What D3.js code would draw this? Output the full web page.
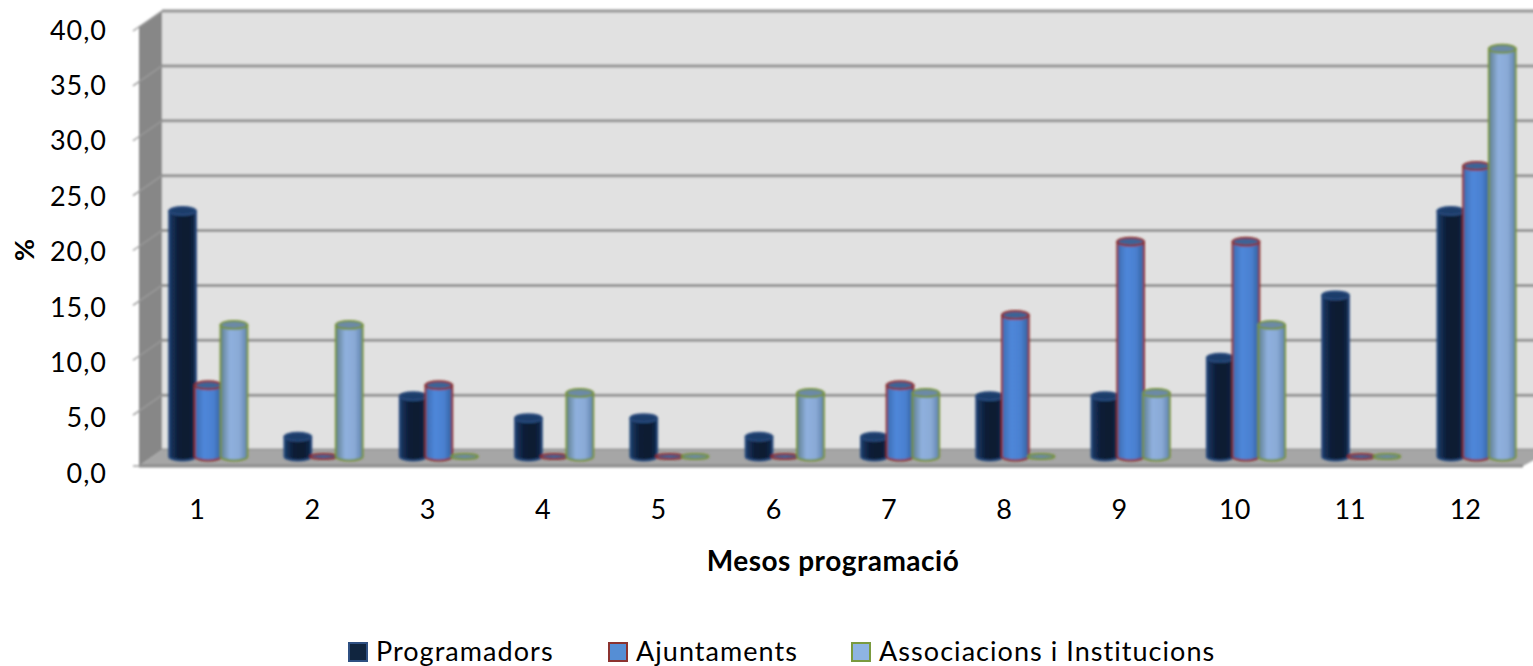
<!DOCTYPE html>
<html>
<head>
<meta charset="utf-8">
<script src="https://cdn.jsdelivr.net/npm/d3@7"></script>
<style>
  html, body { margin: 0; padding: 0; background: #fff; overflow: hidden; }
  text { font-family: Lato, "Open Sans", sans-serif; fill: #000; }
</style>
</head>
<body>
<div id="chart"></div>
<script>
const months = ['1', '2', '3', '4', '5', '6', '7', '8', '9', '10', '11', '12']
const seriesNames = ['Programadors', 'Ajuntaments', 'Associacions i Institucions']
const programadors = [22.4, 1.8, 5.5, 3.5, 3.5, 1.8, 1.8, 5.5, 5.5, 9.0, 14.7, 22.4]
const ajuntaments = [6.5, 0, 6.5, 0, 0, 0, 6.5, 12.9, 19.6, 19.6, 0, 26.5]
const associacions = [12.0, 12.0, 0, 5.8, 0, 5.8, 5.8, 0, 5.8, 12.0, 0, 37.2]
const yTicks = [0, 5, 10, 15, 20, 25, 30, 35, 40]

const width = 1533
const height = 666

// the fake 3d box
const wall = { left: 162, top: 11, bottom: 450 }
const depth = { x: 23, y: 16 }

const svg = d3
  .select('#chart')
  .append('svg')
  .attr('width', width)
  .attr('height', height)

const defs = svg.append('defs')

defs
  .append('filter')
  .attr('id', 'soft')
  .attr('x', '-5%')
  .attr('y', '-5%')
  .attr('width', '110%')
  .attr('height', '110%')
  .append('feGaussianBlur')
  .attr('stdDeviation', 0.8)

const seriesStyle = [
  { id: 'dark', stops: ['#1b3a66', '#0c1c36', '#0b1a30', '#12294d'], top: '#1d3d6b', border: '#27487a', swatch: '#10253f', legend: '#2f5082' },
  { id: 'mid', stops: ['#3b6cb0', '#4f87da', '#4a80d0', '#33609c'], top: '#3c6396', border: '#8c3030', swatch: '#558ed5', legend: '#8c3330' },
  { id: 'light', stops: ['#5f7f8f', '#8fb0de', '#8aaad6', '#5f82ac'], top: '#6c8aa6', border: '#76933c', swatch: '#8eb4e3', legend: '#7a9a3f' }
]

seriesStyle.forEach(s => {
  const g = defs
    .append('linearGradient')
    .attr('id', 'grad-' + s.id)
    .attr('x1', 0)
    .attr('x2', 1)
    .attr('y1', 0)
    .attr('y2', 0)
  d3.zip([0, 0.35, 0.7, 1], s.stops).forEach(([o, c]) => {
    g.append('stop')
      .attr('offset', o)
      .attr('stop-color', c)
  })
})

const xMonth = d3
  .scaleBand()
  .domain(months)
  .range([150.4, 1534])

const xSeries = d3
  .scaleBand()
  .domain(d3.range(3))
  .range([19.3, 96.4])

// y on the back wall, on the front edge, in the plane of the bars, and for the labels
const yWall = d3
  .scaleLinear()
  .domain([0, 40])
  .range([wall.bottom, wall.top])
const yFront = yWall.copy().range([wall.bottom + depth.y, wall.top + depth.y])
const yBar = yWall.copy().range([456.5, 456.5 - 40 * 10.96])
const yLabel = yWall.copy().range([473, 30])

const box = svg
  .append('g')
  .attr('class', 'box')
  .attr('filter', 'url(#soft)')

box
  .append('rect')
  .attr('x', wall.left)
  .attr('y', wall.top)
  .attr('width', width - wall.left + 20)
  .attr('height', wall.bottom - wall.top)
  .attr('fill', '#e1e1e1')

box
  .append('polygon')
  .attr('points', [
    [wall.left - depth.x, wall.top + depth.y],
    [wall.left, wall.top],
    [wall.left, wall.bottom],
    [wall.left - depth.x, wall.bottom + depth.y]
  ].join(' '))
  .attr('fill', '#878787')

box
  .selectAll('.grid')
  .data(yTicks)
  .enter()
  .append('line')
  .attr('class', 'grid')
  .attr('x1', wall.left)
  .attr('x2', width + 20)
  .attr('y1', d => yWall(d))
  .attr('y2', d => yWall(d))
  .attr('stroke', '#929292')
  .attr('stroke-width', 3)

box
  .selectAll('.grid-side')
  .data(yTicks.slice(1))
  .enter()
  .append('line')
  .attr('class', 'grid-side')
  .attr('x1', wall.left - depth.x - 6)
  .attr('x2', wall.left)
  .attr('y1', d => yFront(d) + 4)
  .attr('y2', d => yWall(d))
  .attr('stroke', '#9a9a9a')
  .attr('stroke-width', 1.5)

box
  .append('polygon')
  .attr('points', [
    [wall.left, wall.bottom],
    [width + 20, wall.bottom],
    [1523, wall.bottom + depth.y],
    [wall.left - depth.x, wall.bottom + depth.y]
  ].join(' '))
  .attr('fill', '#a6a6a6')

box
  .append('line')
  .attr('x1', wall.left - depth.x)
  .attr('x2', 1523)
  .attr('y1', wall.bottom + depth.y)
  .attr('y2', wall.bottom + depth.y)
  .attr('stroke', '#8a8a8a')
  .attr('stroke-width', 3)

box
  .append('line')
  .attr('x1', wall.left - depth.x - 6)
  .attr('x2', wall.left - depth.x)
  .attr('y1', wall.bottom + depth.y)
  .attr('y2', wall.bottom + depth.y)
  .attr('stroke', '#9a9a9a')
  .attr('stroke-width', 1.5)

// cylinders
const barRows = months.map((m, i) => ({
  month: m,
  values: [programadors[i], ajuntaments[i], associacions[i]]
}))

const ry = 4

const groups = svg
  .append('g')
  .attr('class', 'bars')
  .attr('filter', 'url(#soft)')
  .selectAll('g')
  .data(barRows)
  .enter()
  .append('g')
  .attr('transform', d => `translate(${xMonth(d.month)},0)`)

groups.each(function(row) {
  const g = d3.select(this)
  row.values.forEach((v, s) => {
    const st = seriesStyle[s]
    const bw = xSeries.bandwidth() + 1
    const cx = xSeries(s) + xSeries.bandwidth() / 2
    const top = yBar(v)
    const base = yBar(0)

    if (v > 0) {
      g.append('path')
        .attr(
          'd',
          `M${cx - bw / 2},${top} V${base} A${bw / 2},${ry} 0 0 0 ${cx + bw / 2},${base} V${top} Z`
        )
        .attr('fill', `url(#grad-${st.id})`)
        .attr('stroke', st.border)
        .attr('stroke-width', 2)
    }
    g.append('ellipse')
      .attr('cx', cx)
      .attr('cy', top)
      .attr('rx', bw / 2)
      .attr('ry', v > 0 ? ry : 2.5)
      .attr('fill', st.top)
      .attr('stroke', st.border)
      .attr('stroke-width', 2)
  })
})

// axes
const yAxis = d3
  .axisLeft(yLabel)
  .tickValues(yTicks)
  .tickSize(0)
  .tickPadding(0)
  .tickFormat(d => d3.format('.1f')(d).replace('.', ','))

svg
  .append('g')
  .attr('class', 'y-axis')
  .attr('transform', 'translate(107,0)')
  .call(yAxis)
  .call(g => g.select('.domain').remove())
  .selectAll('text')
  .style('font-size', '27px')
  .style('letter-spacing', '1px')
  .attr('dy', '0.34em')

const xAxis = d3
  .axisBottom(xMonth)
  .tickSize(0)
  .tickPadding(0)

svg
  .append('g')
  .attr('class', 'x-axis')
  .attr('transform', 'translate(-11,500)')
  .call(xAxis)
  .call(g => g.select('.domain').remove())
  .selectAll('text')
  .style('font-size', '27px')

svg
  .append('text')
  .attr('x', 833)
  .attr('y', 571)
  .attr('text-anchor', 'middle')
  .style('font-size', '28px')
  .style('font-weight', 700)
  .style('letter-spacing', '0.5px')
  .text('Mesos programació')

svg
  .append('text')
  .attr('transform', 'translate(34,250) rotate(-90)')
  .attr('text-anchor', 'middle')
  .style('font-size', '27px')
  .style('font-weight', 700)
  .text('%')

// legend
const legendX = [348, 608, 851]

const legend = svg
  .append('g')
  .attr('class', 'legend')
  .selectAll('g')
  .data(seriesNames)
  .enter()
  .append('g')
  .attr('transform', (d, i) => `translate(${legendX[i]},642)`)

legend
  .append('rect')
  .attr('x', 1)
  .attr('y', 1)
  .attr('width', 18)
  .attr('height', 18)
  .attr('fill', (d, i) => seriesStyle[i].swatch)
  .attr('stroke', (d, i) => seriesStyle[i].legend)
  .attr('stroke-width', 2)

legend
  .append('text')
  .attr('x', 28)
  .attr('y', 19)
  .style('font-size', '27px')
  .style('letter-spacing', '1.05px')
  .text(d => d)
</script>
</body>
</html>
